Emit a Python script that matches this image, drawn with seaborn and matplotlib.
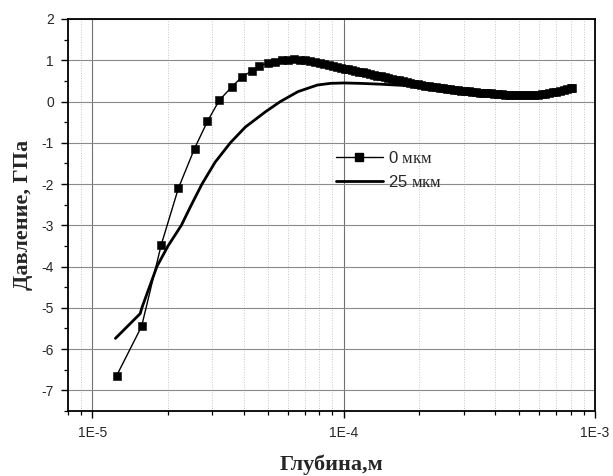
import numpy as np
import pandas as pd
import matplotlib
matplotlib.use("Agg")
import matplotlib.pyplot as plt
from matplotlib.ticker import LogLocator, FuncFormatter, NullFormatter, MultipleLocator
from matplotlib.lines import Line2D
import seaborn as sns

# ---------------- data (depth in micrometres, pressure in GPa) ----------------
depth0_um = [12.5, 15.7, 18.8, 22.0, 25.5, 28.7, 32.0, 35.8, 39.3, 43.0, 46.0, 49.8,
             53.2, 56.6, 60.0, 63.4, 66.8, 70.2, 73.6, 77.0, 80.4, 83.8, 87.2, 90.6,
             94.0, 97.4, 100.8, 104.2, 107.8, 111.4, 115.2, 119.2, 123.2, 127.4, 131.8,
             136.3, 140.9, 145.7, 150.6, 155.8, 161.1, 166.5, 172.2, 178.1, 184.1, 190.4,
             196.8, 203.5, 210.5, 217.6, 225.0, 232.7, 240.6, 248.8, 257.2, 266.0, 275.0,
             284.3, 294.0, 304.0, 314.4, 325.1, 336.1, 347.5, 359.4, 371.6, 384.2, 397.3,
             410.8, 424.7, 439.2, 454.1, 469.5, 485.5, 502.0, 519.1, 536.7, 555.0, 573.8,
             593.3, 613.5, 634.4, 655.9, 678.2, 701.3, 725.1, 749.8, 775.3, 801.6, 812.0]
press0 = [-6.64, -5.45, -3.47, -2.10, -1.14, -0.48, 0.03, 0.35, 0.59, 0.74, 0.86, 0.93,
          0.97, 1.00, 1.01, 1.02, 1.01, 1.00, 0.98, 0.96, 0.93, 0.91, 0.88, 0.86,
          0.84, 0.82, 0.80, 0.78, 0.76, 0.74, 0.725, 0.71, 0.69, 0.67, 0.65,
          0.63, 0.61, 0.59, 0.57, 0.55, 0.53, 0.51, 0.49, 0.47, 0.45, 0.435,
          0.415, 0.40, 0.385, 0.37, 0.355, 0.345, 0.33, 0.32, 0.31, 0.30, 0.285,
          0.275, 0.265, 0.255, 0.245, 0.235, 0.225, 0.215, 0.21, 0.20, 0.195, 0.19,
          0.18, 0.175, 0.17, 0.165, 0.16, 0.155, 0.15, 0.15, 0.15, 0.155, 0.16,
          0.17, 0.18, 0.19, 0.205, 0.22, 0.24, 0.26, 0.28, 0.30, 0.32, 0.33]

depth25_um = [12.35, 15.5, 15.74, 18.06, 20.0, 22.6, 24.7, 27.3, 30.8, 35.4, 40.6,
              48.8, 56.0, 65.8, 78.6, 88.5, 100, 116.6, 140, 173, 230, 300, 400,
              510, 650, 820]
press25 = [-5.74, -5.14, -5.0, -4.0, -3.50, -3.0, -2.52, -2.0, -1.47, -1.0, -0.62,
           -0.25, 0.0, 0.24, 0.40, 0.44, 0.45, 0.44, 0.42, 0.39, 0.34, 0.27, 0.20,
           0.16, 0.18, 0.30]

labels = ["0 $\\mathrm{мкм}$", "25 $\\mathrm{мкм}$"]
xtick_vals = [1e-5, 1e-4, 1e-3]
ytick_vals = list(range(-7, 3))

df0 = pd.DataFrame({"x": np.array(depth0_um) * 1e-6, "y": press0})
df25 = pd.DataFrame({"x": np.array(depth25_um) * 1e-6, "y": press25})

# ---------------- style ----------------
sns.set_theme(style="white")
plt.rcParams["font.family"] = ["Liberation Sans", "DejaVu Sans"]
plt.rcParams["mathtext.fontset"] = "custom"
plt.rcParams["mathtext.rm"] = "Liberation Serif"
plt.rcParams["axes.unicode_minus"] = False

fig = plt.figure(figsize=(6.13, 4.76), dpi=100)
ax = fig.add_axes([68 / 613, 1 - 411 / 476, (595 - 68) / 613, (411 - 19) / 476])

sns.lineplot(data=df0, x="x", y="y", ax=ax, color="black", lw=1.0, marker="s",
             markersize=6.0, markeredgecolor="black", markeredgewidth=0.4,
             sort=False, estimator=None, zorder=3)
sns.lineplot(data=df25, x="x", y="y", ax=ax, color="black", lw=2.0,
             sort=False, estimator=None, zorder=2)

ax.set_xscale("log")
ax.set_xlim(8e-6, 1e-3)
ax.set_ylim(-7.5, 2)

ax.set_xticks(xtick_vals)
ax.xaxis.set_major_formatter(FuncFormatter(lambda v, p: "1E%d" % int(round(np.log10(v)))))
ax.xaxis.set_minor_locator(LogLocator(base=10, subs=np.arange(2, 10), numticks=20))
ax.xaxis.set_minor_formatter(NullFormatter())
ax.set_yticks(ytick_vals)
ax.yaxis.set_minor_locator(MultipleLocator(0.5))

ax.tick_params(axis="both", which="major", direction="out", length=5, width=1.0,
               labelsize=10, color="black", pad=5, bottom=True, left=True,
               top=False, right=False)
ax.tick_params(axis="x", which="major", pad=6)
ax.tick_params(axis="both", which="minor", direction="out", length=3, width=0.9,
               color="black", bottom=True, left=True, top=False, right=False)

for s in ax.spines.values():
    s.set_color("black")
    s.set_linewidth(1.3)
    s.set_visible(True)

ax.set_axisbelow(True)
ax.grid(which="major", axis="y", color="#8a8a8a", lw=0.8, ls="-")
ax.grid(which="major", axis="x", color="#707070", lw=0.8, ls="-")
ax.grid(which="minor", axis="x", color="#c4c4c4", lw=0.7, ls=":")

ax.set_xlabel("Глубина,м", fontsize=16, fontweight="bold", family="Liberation Serif",
              labelpad=10)
ax.set_ylabel("Давление, ГПа", fontsize=16, fontweight="bold", family="Liberation Serif",
              labelpad=6)

handles = [Line2D([], [], color="black", lw=1.0, marker="s", markersize=6.0),
           Line2D([], [], color="black", lw=2.0)]
ax.legend(handles, labels, loc="center left", bbox_to_anchor=(336 / 613, 1 - 170 / 476),
          bbox_transform=fig.transFigure, frameon=False, fontsize=12,
          handlelength=2.8, handletextpad=0.3, labelspacing=0.5, borderpad=0,
          borderaxespad=0)

fig.savefig("out.png", dpi=100)
